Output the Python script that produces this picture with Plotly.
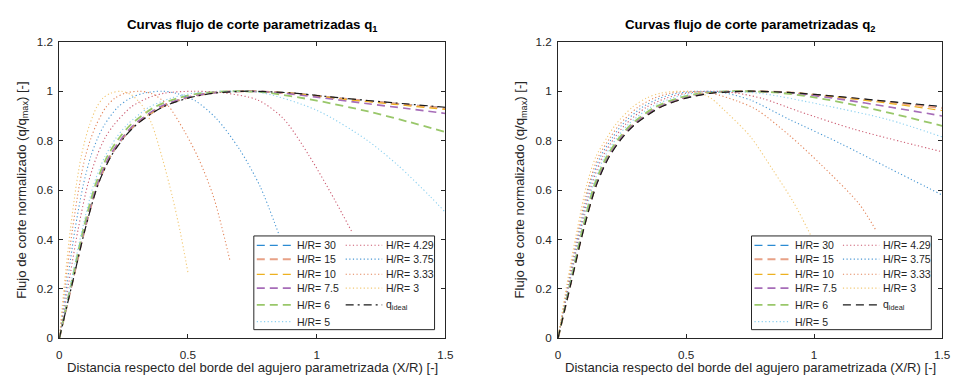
import plotly.graph_objects as go

# ---------------- data ----------------
SERIES_NAMES = ["H/R= 30", "H/R= 15", "H/R= 10", "H/R= 7.5", "H/R= 6", "H/R= 5",
                "H/R= 4.29", "H/R= 3.75", "H/R= 3.33", "H/R= 3", "q<sub>ideal</sub>"]

# --- q1 ---
Q1_X_30 = [0, 0.05, 0.1, 0.15, 0.2, 0.25, 0.3, 0.4, 0.5, 0.6, 0.73, 0.9, 1.1, 1.3, 1.5]
Q1_V_30 = [0, 0.221, 0.442, 0.622, 0.737, 0.812, 0.866, 0.936, 0.973, 0.993, 1.0, 0.993, 0.971, 0.951, 0.933]
Q1_X_15 = [0, 0.05, 0.1, 0.15, 0.2, 0.25, 0.3, 0.4, 0.5, 0.6, 0.73, 0.9, 1.1, 1.3, 1.5]
Q1_V_15 = [0, 0.223, 0.445, 0.625, 0.74, 0.814, 0.868, 0.937, 0.974, 0.994, 1.0, 0.992, 0.97, 0.95, 0.931]
Q1_X_10 = [0, 0.05, 0.1, 0.15, 0.2, 0.25, 0.3, 0.4, 0.5, 0.6, 0.72, 0.9, 1.1, 1.3, 1.5]
Q1_V_10 = [0, 0.225, 0.448, 0.628, 0.743, 0.817, 0.871, 0.939, 0.975, 0.995, 1.0, 0.992, 0.968, 0.947, 0.926]
Q1_X_75 = [0, 0.048, 0.097, 0.146, 0.194, 0.243, 0.291, 0.387, 0.484, 0.58, 0.715, 0.85, 1.0, 1.2, 1.35, 1.5]
Q1_V_75 = [0, 0.22, 0.44, 0.62, 0.735, 0.81, 0.865, 0.935, 0.972, 0.992, 1.0, 0.994, 0.976, 0.949, 0.93, 0.91]
Q1_X_6 = [0, 0.046, 0.093, 0.14, 0.186, 0.232, 0.278, 0.369, 0.46, 0.552, 0.68, 0.8, 1.0, 1.2, 1.35, 1.5]
Q1_V_6 = [0, 0.22, 0.44, 0.62, 0.735, 0.81, 0.865, 0.935, 0.972, 0.992, 1.0, 0.995, 0.962, 0.918, 0.878, 0.835]
Q1_X_5 = [0, 0.044, 0.089, 0.133, 0.177, 0.22, 0.264, 0.349, 0.434, 0.52, 0.64, 0.79, 1.0, 1.19, 1.316, 1.44, 1.5]
Q1_V_5 = [0, 0.22, 0.44, 0.62, 0.735, 0.81, 0.865, 0.935, 0.972, 0.992, 1.0, 0.993, 0.923, 0.806, 0.70, 0.575, 0.51]
Q1_X_429 = [0, 0.036, 0.073, 0.11, 0.145, 0.177, 0.213, 0.278, 0.342, 0.408, 0.52, 0.64, 0.77, 0.87, 0.97, 1.07, 1.135]
Q1_V_429 = [0, 0.22, 0.44, 0.62, 0.735, 0.81, 0.865, 0.935, 0.972, 0.992, 1.0, 0.993, 0.965, 0.89, 0.74, 0.56, 0.434]
Q1_X_375 = [0, 0.03, 0.061, 0.093, 0.122, 0.149, 0.176, 0.227, 0.276, 0.328, 0.40, 0.46, 0.53, 0.61, 0.70, 0.78, 0.855]
Q1_V_375 = [0, 0.22, 0.44, 0.62, 0.735, 0.81, 0.865, 0.935, 0.972, 0.992, 1.0, 0.99, 0.96, 0.89, 0.765, 0.615, 0.415]
Q1_X_333 = [0, 0.024, 0.051, 0.078, 0.101, 0.123, 0.144, 0.181, 0.216, 0.256, 0.31, 0.36, 0.42, 0.485, 0.54, 0.60, 0.664]
Q1_V_333 = [0, 0.22, 0.44, 0.62, 0.735, 0.81, 0.865, 0.935, 0.972, 0.992, 1.0, 0.99, 0.945, 0.84, 0.73, 0.57, 0.31]
Q1_X_3 = [0, 0.02, 0.043, 0.066, 0.085, 0.102, 0.118, 0.145, 0.17, 0.2, 0.24, 0.28, 0.32, 0.36, 0.40, 0.44, 0.47, 0.5]
Q1_V_3 = [0, 0.22, 0.44, 0.62, 0.735, 0.81, 0.865, 0.935, 0.972, 0.992, 1.0, 0.985, 0.945, 0.865, 0.73, 0.57, 0.43, 0.265]
Q1_X_IDEAL = [0, 0.05, 0.1, 0.15, 0.2, 0.25, 0.3, 0.4, 0.5, 0.6, 0.74, 0.9, 1.1, 1.3, 1.5]
Q1_V_IDEAL = [0, 0.22, 0.44, 0.62, 0.735, 0.81, 0.865, 0.935, 0.972, 0.992, 1.0, 0.993, 0.972, 0.953, 0.935]

# --- q2 ---
Q2_X_30 = [0, 0.05, 0.1, 0.15, 0.2, 0.25, 0.3, 0.4, 0.5, 0.6, 0.73, 0.9, 1.1, 1.3, 1.5]
Q2_V_30 = [0, 0.221, 0.442, 0.622, 0.737, 0.812, 0.866, 0.936, 0.973, 0.993, 1.0, 0.995, 0.977, 0.957, 0.936]
Q2_X_15 = [0, 0.05, 0.1, 0.15, 0.2, 0.25, 0.3, 0.4, 0.5, 0.6, 0.73, 0.9, 1.1, 1.3, 1.5]
Q2_V_15 = [0, 0.223, 0.445, 0.625, 0.74, 0.814, 0.868, 0.937, 0.974, 0.994, 1.0, 0.995, 0.976, 0.955, 0.932]
Q2_X_10 = [0, 0.05, 0.1, 0.15, 0.2, 0.25, 0.3, 0.4, 0.5, 0.6, 0.72, 0.9, 1.1, 1.3, 1.5]
Q2_V_10 = [0, 0.225, 0.448, 0.628, 0.743, 0.817, 0.871, 0.939, 0.975, 0.995, 1.0, 0.995, 0.975, 0.95, 0.922]
Q2_X_75 = [0, 0.0485, 0.0975, 0.146, 0.195, 0.244, 0.2925, 0.389, 0.4845, 0.58, 0.712, 0.9, 1.1, 1.3, 1.5]
Q2_V_75 = [0, 0.22, 0.44, 0.62, 0.735, 0.81, 0.865, 0.935, 0.972, 0.992, 1.0, 0.993, 0.968, 0.935, 0.9]
Q2_X_6 = [0, 0.047, 0.095, 0.142, 0.19, 0.238, 0.285, 0.378, 0.469, 0.56, 0.684, 0.85, 1.0, 1.2, 1.5]
Q2_V_6 = [0, 0.22, 0.44, 0.62, 0.735, 0.81, 0.865, 0.935, 0.972, 0.992, 1.0, 0.995, 0.975, 0.935, 0.86]
Q2_X_5 = [0, 0.045, 0.091, 0.137, 0.182, 0.229, 0.274, 0.362, 0.446, 0.53, 0.642, 0.8, 1.03, 1.29, 1.5]
Q2_V_5 = [0, 0.22, 0.44, 0.62, 0.735, 0.81, 0.865, 0.935, 0.972, 0.992, 1.0, 0.99, 0.945, 0.885, 0.815]
Q2_X_429 = [0, 0.043, 0.088, 0.131, 0.174, 0.22, 0.263, 0.345, 0.423, 0.5, 0.6, 0.7, 0.8, 0.945, 1.16, 1.5]
Q2_V_429 = [0, 0.22, 0.44, 0.62, 0.735, 0.81, 0.865, 0.935, 0.972, 0.992, 1.0, 0.992, 0.97, 0.917, 0.845, 0.755]
Q2_X_375 = [0, 0.04, 0.084, 0.125, 0.166, 0.211, 0.251, 0.329, 0.399, 0.47, 0.558, 0.65, 0.75, 0.905, 1.1, 1.29, 1.5]
Q2_V_375 = [0, 0.22, 0.44, 0.62, 0.735, 0.81, 0.865, 0.935, 0.972, 0.992, 1.0, 0.993, 0.965, 0.885, 0.79, 0.69, 0.58]
Q2_X_333 = [0, 0.038, 0.08, 0.12, 0.158, 0.202, 0.24, 0.312, 0.376, 0.44, 0.516, 0.6, 0.7, 0.776, 0.905, 1.03, 1.175, 1.24]
Q2_V_333 = [0, 0.22, 0.44, 0.62, 0.735, 0.81, 0.865, 0.935, 0.972, 0.992, 1.0, 0.992, 0.96, 0.925, 0.82, 0.70, 0.545, 0.44]
Q2_X_3 = [0, 0.035, 0.075, 0.112, 0.148, 0.19, 0.225, 0.29, 0.345, 0.40, 0.48, 0.56, 0.6, 0.648, 0.75, 0.84, 0.92, 1.0]
Q2_V_3 = [0, 0.22, 0.44, 0.62, 0.735, 0.81, 0.865, 0.935, 0.972, 0.992, 1.0, 0.99, 0.97, 0.925, 0.818, 0.68, 0.55, 0.39]
Q2_X_IDEAL = [0, 0.05, 0.1, 0.15, 0.2, 0.25, 0.3, 0.4, 0.5, 0.6, 0.74, 0.9, 1.1, 1.3, 1.5]
Q2_V_IDEAL = [0, 0.22, 0.44, 0.62, 0.735, 0.81, 0.865, 0.935, 0.972, 0.992, 1.0, 0.995, 0.978, 0.958, 0.938]

X_TICKS = [0, 0.5, 1, 1.5]
X_TICK_TEXT = ["0", "0.5", "1", "1.5"]
Y_TICKS = [0, 0.2, 0.4, 0.6, 0.8, 1.0, 1.2]
Y_TICK_TEXT = ["0", "0.2", "0.4", "0.6", "0.8", "1", "1.2"]

TITLES = ["Curvas flujo de corte parametrizadas q<sub>1</sub>",
          "Curvas flujo de corte parametrizadas q<sub>2</sub>"]
X_LABEL = "Distancia respecto del borde del agujero parametrizada (X/R) [-]"
Y_LABEL = "Flujo de corte normalizado (q/q<sub>max</sub>) [-]"

# ---------------- styles ----------------
DASH = "8px,5px"
DOT = "1.2px,2.4px"
DASHDOT = "8px,4px,2px,4px"
STYLES = [
    dict(color="#2B8BD3", width=1.2, dash=DASH),
    dict(color="#E8A186", width=2.0, dash=DASH),
    dict(color="#EDB120", width=1.2, dash=DASH),
    dict(color="#A66CB8", width=1.6, dash=DASH),
    dict(color="#99C76A", width=1.8, dash=DASH),
    dict(color="#8BD0F0", width=1.1, dash=DOT),
    dict(color="#CC5C72", width=1.1, dash=DOT),
    dict(color="#4A98D4", width=1.1, dash=DOT),
    dict(color="#E3855A", width=1.1, dash=DOT),
    dict(color="#F2C874", width=1.1, dash=DOT),
]
IDEAL_STYLE = [dict(color="#1a1a1a", width=1.2, dash=DASHDOT),
               dict(color="#1a1a1a", width=1.2, dash=DASH)]

Q1 = [(Q1_X_30, Q1_V_30), (Q1_X_15, Q1_V_15), (Q1_X_10, Q1_V_10), (Q1_X_75, Q1_V_75),
      (Q1_X_6, Q1_V_6), (Q1_X_5, Q1_V_5), (Q1_X_429, Q1_V_429), (Q1_X_375, Q1_V_375),
      (Q1_X_333, Q1_V_333), (Q1_X_3, Q1_V_3), (Q1_X_IDEAL, Q1_V_IDEAL)]
Q2 = [(Q2_X_30, Q2_V_30), (Q2_X_15, Q2_V_15), (Q2_X_10, Q2_V_10), (Q2_X_75, Q2_V_75),
      (Q2_X_6, Q2_V_6), (Q2_X_5, Q2_V_5), (Q2_X_429, Q2_V_429), (Q2_X_375, Q2_V_375),
      (Q2_X_333, Q2_V_333), (Q2_X_3, Q2_V_3), (Q2_X_IDEAL, Q2_V_IDEAL)]

W, H = 961, 383
FONT = "Liberation Sans, Arial, Helvetica, sans-serif"
TXT = "#262626"

# axes pixel boxes
AX = [dict(l=57, r=448), dict(l=562, r=951)]
AX_TOP, AX_BOT = 36, 343

fig = go.Figure()
for k, data in enumerate([Q1, Q2]):
    sfx = "" if k == 0 else str(k + 1)
    for i, (xs, vs) in enumerate(data):
        st = STYLES[i] if i < 10 else IDEAL_STYLE[k]
        fig.add_trace(go.Scatter(
            x=xs, y=vs, mode="lines", name=SERIES_NAMES[i],
            line=dict(color=st["color"], width=st["width"], dash=st["dash"],
                      shape="spline", smoothing=0.8),
            xaxis="x" + sfx, yaxis="y" + sfx, showlegend=False, hoverinfo="skip"))

axis_common = dict(showline=True, linecolor=TXT, linewidth=1, mirror="ticks",
                   ticks="inside", ticklen=4, tickcolor=TXT, tickwidth=1,
                   showgrid=False, zeroline=False,
                   tickfont=dict(family=FONT, size=11.7, color=TXT))
layout = dict(width=W, height=H, margin=dict(l=0, r=0, t=0, b=0),
              plot_bgcolor="white", paper_bgcolor="white", showlegend=False)
ydom = [1 - AX_BOT / H, 1 - AX_TOP / H]
for k in range(2):
    sfx = "" if k == 0 else str(k + 1)
    xdom = [AX[k]["l"] / W, AX[k]["r"] / W]
    layout["xaxis" + sfx] = dict(axis_common, domain=xdom, range=[0, 1.5],
                                 tickvals=X_TICKS, ticktext=X_TICK_TEXT,
                                 anchor="y" + sfx, ticklabelstandoff=6)
    layout["yaxis" + sfx] = dict(axis_common, domain=ydom, range=[0, 1.2],
                                 tickvals=Y_TICKS, ticktext=Y_TICK_TEXT,
                                 anchor="x" + sfx, ticklabelstandoff=3)
fig.update_layout(**layout)

annotations = []
shapes = []
# legend geometry in axis-domain fractions
BOX = dict(x0=0.5038, x1=0.9719, y0=0.0293, y1=0.3453)
COLS = [(0.5115, 0.6036, 0.6113), (0.7417, 0.8363, 0.8414)]
ROWS = [0.3137, 0.2671, 0.216, 0.1694, 0.113, 0.0564]
LEG_ORDER = [(0, 0), (0, 1), (0, 2), (0, 3), (0, 4), (0, 5),
             (1, 0), (1, 1), (1, 2), (1, 3), (1, 4)]

for k in range(2):
    sfx = "" if k == 0 else str(k + 1)
    cx = (AX[k]["l"] + AX[k]["r"]) / 2 / W
    annotations.append(dict(text="<b>" + TITLES[k] + "</b>", x=cx, y=1 - 19 / H,
                            xref="paper", yref="paper", xanchor="center", yanchor="middle",
                            showarrow=False, font=dict(family=FONT, size=13.3, color="black")))
    annotations.append(dict(text=X_LABEL, x=cx, y=1 - 373 / H, xref="paper", yref="paper",
                            xanchor="center", yanchor="middle", showarrow=False,
                            font=dict(family=FONT, size=13.1, color=TXT)))
    annotations.append(dict(text=Y_LABEL, x=(AX[k]["l"] - 38) / W, y=1 - (AX_TOP + AX_BOT) / 2 / H,
                            xref="paper", yref="paper", xanchor="center", yanchor="middle",
                            textangle=-90, showarrow=False,
                            font=dict(family=FONT, size=13.1, color=TXT)))
    xr, yr = "x" + sfx + " domain", "y" + sfx + " domain"
    shapes.append(dict(type="rect", xref=xr, yref=yr, x0=BOX["x0"], x1=BOX["x1"],
                       y0=BOX["y0"], y1=BOX["y1"], fillcolor="white",
                       line=dict(color=TXT, width=1), layer="above"))
    for i, (c, r) in enumerate(LEG_ORDER):
        st = STYLES[i] if i < 10 else IDEAL_STYLE[k]
        lx0, lx1, tx = COLS[c]
        ry = ROWS[r]
        shapes.append(dict(type="line", xref=xr, yref=yr, x0=lx0, x1=lx1, y0=ry, y1=ry,
                           line=dict(color=st["color"], width=st["width"], dash=st["dash"]),
                           layer="above"))
        annotations.append(dict(text=SERIES_NAMES[i], x=tx, y=ry, xref=xr, yref=yr,
                                xanchor="left", yanchor="middle", showarrow=False,
                                font=dict(family=FONT, size=10.5, color=TXT)))

fig.update_layout(annotations=annotations, shapes=shapes)
fig.write_html("out.html")
